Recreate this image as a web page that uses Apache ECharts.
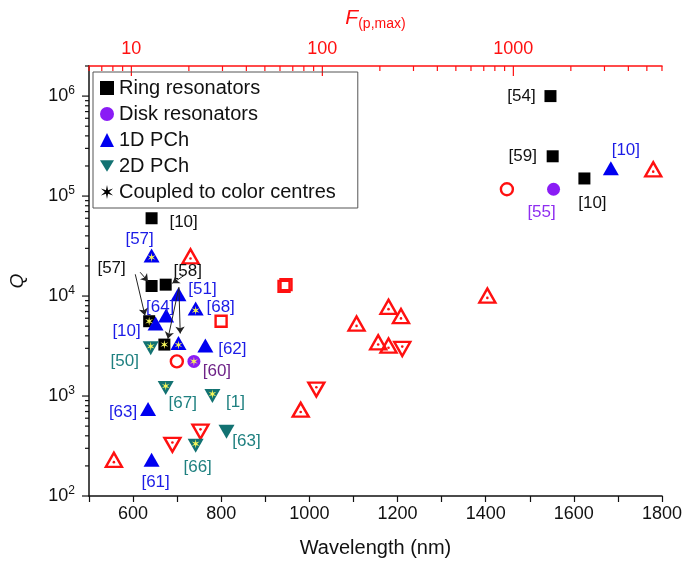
<!DOCTYPE html>
<html><head><meta charset="utf-8">
<script src="https://cdn.jsdelivr.net/npm/echarts@6/dist/echarts.min.js"></script>
<style>html,body{margin:0;padding:0;background:#fff}#c{width:685px;height:563px}</style>
</head><body><div id="c"></div><script>
// ---------------- data ----------------
const ringWl = [1547, 1552, 1624, 642, 642, 674, 636.5, 671];
const ringQ = [1.0e6, 2.5e5, 1.5e5, 6.0e4, 1.26e4, 1.3e4, 5.6e3, 3.27e3];
const ringRef = ['[54]', '[59]', '[10]', '[10]', '[57]', '[58]', '', ''];
const ringCoupled = [0, 0, 0, 0, 0, 0, 1, 1];

const diskWl = [1554, 738];
const diskQ = [1.17e5, 2.22e3];
const diskRef = ['[55]', '[60]'];
const diskCoupled = [0, 1];

const pch1Wl = [1684, 642, 703, 675, 651, 742, 703, 764, 634, 642];
const pch1Q = [1.9e5, 2.55e4, 1.04e4, 6.4e3, 5.3e3, 7.5e3, 3.4e3, 3.2e3, 740, 230];
const pch1Ref = ['[10]', '[57]', '[51]', '[64]', '[10]', '[68]', '', '[62]', '[63]', '[61]'];
const pch1Coupled = [0, 1, 0, 0, 0, 1, 1, 0, 0, 0];

const pch2Wl = [640, 674, 780, 812, 742];
const pch2Q = [3.0e3, 1.2e3, 1.0e3, 440, 318];
const pch2Ref = ['[50]', '[67]', '[1]', '[63]', '[66]'];
const pch2Coupled = [1, 1, 1, 0, 1];

// F_(p,max) (top axis), open red symbols
const fpUpF = [8.1, 20.4, 151, 222, 258, 196, 222, 77, 731, 5400];
const fpUpQ = [230, 2.5e4, 5.3e3, 7.8e3, 6.3e3, 3.45e3, 3.2e3, 730, 1.01e4, 1.85e5];
const fpDownF = [23.0, 16.4, 93, 262];
const fpDownQ = [440, 325, 1160, 2960];
const fpCircleF = [17.3, 925];
const fpCircleQ = [2220, 1.17e5];
const fpSquareF = [29.5, 63, 64.5];
const fpSquareQ = [5600, 1.25e4, 1.3e4];

// annotation arrows [start, end] in (wavelength, Q)
const arrows = [
  [[605, 1.65e4], [627, 6.4e3]],
  [[616, 1.73e4], [634, 1.4e4]],
  [[716, 1.61e4], [689, 1.34e4]],
  [[704, 1.22e4], [679, 3.73e3]],
  [[704, 1.22e4], [707, 4.22e3]]
];

// axis ranges
const xRange = [500, 1800];
const qRange = [100, 2e6];
const fRange = [6, 6000];

// ---------------- styles (label offsets etc.) ----------------
const ringLabelOffset = [[-29, 0], [-30, 0], [8, 25], [32, 4], [-40, -18], [22, -13], null, null];
const diskLabelOffset = [[-12, 23], [23, 10]];
const pch1LabelOffset = [[15, -18], [-12, -16], [24, -5], [-6, -8], [-29, 8], [25, -1], null, [27, 4], [-25, 3], [4, 22]];
const pch2LabelOffset = [[-26, 13], [17, 15], [23, 6], [20, 10], [2, 22]];

const FONT = "'Liberation Sans', Arial, Helvetica, sans-serif";
const RED = '#ff1010';
const BLACK = '#111';
const BLUE = '#0000f0';
const BLUE_T = '#1c1ce6';
const TEAL = '#127272';
const TEAL_T = '#1f8080';
const PURPLE = '#8a1cf5';
const diskLabelColor = ['#8f2ef0', '#6e2288'];
const YEL = '#f6f65a';
const DOWN = 'path://M0,0 L16,0 L8,13 Z';

function starPath(n, rIn) {
  let d = '';
  for (let k = 0; k < 2 * n; k++) {
    const a = -Math.PI / 2 + k * Math.PI / n;
    const r = k % 2 === 0 ? 1 : rIn;
    d += (k ? 'L' : 'M') + (50 + 50 * r * Math.cos(a)).toFixed(2) + ',' + (50 + 50 * r * Math.sin(a)).toFixed(2) + ' ';
  }
  return 'path://' + d + 'Z';
}
const STAR = starPath(6, 0.3);

function pts(wl, q, ref, off, color) {
  return wl.map((x, i) => ({
    value: [x, q[i]],
    name: ref[i] || '',
    label: ref[i] ? { show: true, offset: off[i], color: Array.isArray(color) ? color[i] : color } : { show: false }
  }));
}
function zip(a, b) { return a.map((x, i) => [x, b[i]]); }

const starData = [];
function addStars(wl, q, flags, dy) {
  wl.forEach((x, i) => { if (flags[i]) starData.push({ value: [x, q[i]], symbolOffset: [0, dy] }); });
}
addStars(ringWl, ringQ, ringCoupled, 0);
addStars(diskWl, diskQ, diskCoupled, 0);
addStars(pch1Wl, pch1Q, pch1Coupled, 2);
addStars(pch2Wl, pch2Q, pch2Coupled, -2);

// tick lists
const qTicks = [];
for (let e = 2; e <= 6; e++) for (let m = 1; m <= 9; m++) { const v = m * Math.pow(10, e); if (v <= qRange[1] * 1.0001) qTicks.push([xRange[0], v]); }
const fTicks = [];
for (let e = 0; e <= 3; e++) for (let m = 1; m <= 9; m++) { const v = m * Math.pow(10, e); if (v >= fRange[0] * 0.9999 && v <= fRange[1] * 1.0001) fTicks.push([v, qRange[1]]); }
function isPow10(v) { const e = Math.log10(v); return Math.abs(e - Math.round(e)) < 1e-6; }

const labelBase = { show: true, position: 'inside', fontSize: 17, fontFamily: FONT, formatter: '{b}' };
const solid = c => ({ color: c, opacity: 1 });
const open = { color: 'rgba(0,0,0,0)', borderColor: RED, borderWidth: 2.4, opacity: 1 };
const noEmph = { disabled: true };

const option = {
  animation: false,
  textStyle: { fontFamily: FONT },
  grid: { left: 78, right: 23, top: 66, bottom: 67 },
  legend: {
    orient: 'vertical', left: 93, top: 72,
    padding: [6, 22, 6, 7], itemGap: 6, itemWidth: 14, itemHeight: 14,
    borderColor: '#555', borderWidth: 1,
    textStyle: { fontSize: 20, color: BLACK, lineHeight: 20, fontFamily: FONT },
    selectedMode: false,
    data: [
      { name: 'Ring resonators', icon: 'rect' },
      { name: 'Disk resonators', icon: 'circle' },
      { name: '1D PCh', icon: 'triangle' },
      { name: '2D PCh', icon: DOWN },
      { name: 'Coupled to color centres', icon: STAR, itemStyle: { color: '#000' } }
    ]
  },
  xAxis: [
    {
      type: 'value', min: xRange[0], max: xRange[1], interval: 100, position: 'bottom',
      name: 'Wavelength (nm)', nameLocation: 'middle', nameGap: 42,
      nameTextStyle: { fontSize: 20, color: BLACK, fontFamily: FONT },
      axisLine: { show: true, lineStyle: { color: BLACK, width: 1.5 } },
      axisTick: { show: true, inside: false, length: 6, lineStyle: { color: BLACK, width: 1.2 } },
      axisLabel: { fontSize: 18, color: BLACK, margin: 9, formatter: v => (v > 500 && v % 200 === 0) ? String(v) : '' },
      splitLine: { show: false }
    },
    {
      type: 'log', logBase: 10, min: fRange[0], max: fRange[1], position: 'top',
      name: '{i|F}{s|(p,max)}', nameLocation: 'middle', nameGap: 35,
      nameTextStyle: { rich: {
        i: { fontSize: 21, fontStyle: 'italic', color: RED, lineHeight: 26, fontFamily: FONT },
        s: { fontSize: 14, color: RED, verticalAlign: 'bottom', lineHeight: 26, fontFamily: FONT }
      } },
      axisLine: { show: true, lineStyle: { color: RED, width: 1.5 } },
      axisTick: { show: false },
      axisLabel: { fontSize: 18, color: RED, margin: 8, formatter: v => (isPow10(v) && v >= 9 && v <= 1100) ? String(Math.round(v)) : '' },
      splitLine: { show: false }
    }
  ],
  yAxis: [{
    type: 'log', logBase: 10, min: qRange[0], max: qRange[1],
    name: 'Q', nameLocation: 'middle', nameGap: 62, nameRotate: 90,
    nameTextStyle: { fontSize: 19, fontStyle: 'italic', color: BLACK, fontFamily: FONT },
    axisLine: { show: true, lineStyle: { color: BLACK, width: 1.5 } },
    axisTick: { show: false },
    axisLabel: {
      margin: 14,
      formatter: v => isPow10(v) && v < 1.5e6 ? '{b|10}{sup|' + Math.round(Math.log10(v)) + '}' : '',
      rich: {
        b: { fontSize: 18, color: BLACK, lineHeight: 22, fontFamily: FONT },
        sup: { fontSize: 12, color: BLACK, verticalAlign: 'top', lineHeight: 22, fontFamily: FONT }
      }
    },
    splitLine: { show: false }
  }],
  series: [
    {
      type: 'custom', xAxisIndex: 0, yAxisIndex: 0, data: qTicks, silent: true, z: 1,
      renderItem: (params, api) => {
        const v = api.value(1);
        const p = api.coord([api.value(0), v]);
        const len = isPow10(v) ? 7 : 4;
        return { type: 'line', shape: { x1: p[0] - len, y1: p[1], x2: p[0], y2: p[1] }, style: { stroke: BLACK, lineWidth: 1.2 } };
      }
    },
    {
      type: 'custom', xAxisIndex: 1, yAxisIndex: 0, data: fTicks, silent: true, z: 1,
      renderItem: (params, api) => {
        const v = api.value(0);
        const p = api.coord([v, api.value(1)]);
        const len = isPow10(v) ? 10 : 5;
        return { type: 'line', shape: { x1: p[0], y1: p[1], x2: p[0], y2: p[1] + len }, style: { stroke: RED, lineWidth: 1.2 } };
      }
    },
    { name: 'fpUp', type: 'scatter', xAxisIndex: 1, symbol: 'triangle', symbolSize: [16, 14], itemStyle: open, emphasis: noEmph, data: zip(fpUpF, fpUpQ), z: 3 },
    { name: 'fpUpDot', type: 'scatter', xAxisIndex: 1, symbol: 'circle', symbolSize: 2.6, symbolOffset: [0, 2.3], itemStyle: solid(RED), emphasis: noEmph, data: zip(fpUpF, fpUpQ), z: 3 },
    { name: 'fpDown', type: 'scatter', xAxisIndex: 1, symbol: DOWN, symbolSize: [16, 14], itemStyle: open, emphasis: noEmph, data: zip(fpDownF, fpDownQ), z: 3 },
    { name: 'fpDownDot', type: 'scatter', xAxisIndex: 1, symbol: 'circle', symbolSize: 2.6, symbolOffset: [0, -2.3], itemStyle: solid(RED), emphasis: noEmph, data: zip(fpDownF, fpDownQ), z: 3 },
    { name: 'fpCircle', type: 'scatter', xAxisIndex: 1, symbol: 'circle', symbolSize: 12, itemStyle: open, emphasis: noEmph, data: zip(fpCircleF, fpCircleQ), z: 3 },
    { name: 'fpSquare', type: 'scatter', xAxisIndex: 1, symbol: 'rect', symbolSize: 11, itemStyle: open, emphasis: noEmph, data: zip(fpSquareF, fpSquareQ), z: 3 },
    { name: 'Ring resonators', type: 'scatter', symbol: 'rect', symbolSize: 12, itemStyle: solid('#000'), emphasis: noEmph,
      label: labelBase, data: pts(ringWl, ringQ, ringRef, ringLabelOffset, BLACK), z: 4 },
    { name: 'Disk resonators', type: 'scatter', symbol: 'circle', symbolSize: 13, itemStyle: solid(PURPLE), emphasis: noEmph,
      label: labelBase, data: pts(diskWl, diskQ, diskRef, diskLabelOffset, diskLabelColor), z: 4 },
    { name: '1D PCh', type: 'scatter', symbol: 'triangle', symbolSize: [16, 14], itemStyle: solid(BLUE), emphasis: noEmph,
      label: labelBase, data: pts(pch1Wl, pch1Q, pch1Ref, pch1LabelOffset, BLUE_T), z: 4 },
    { name: '2D PCh', type: 'scatter', symbol: DOWN, symbolSize: [16, 14], itemStyle: solid(TEAL), emphasis: noEmph,
      label: labelBase, data: pts(pch2Wl, pch2Q, pch2Ref, pch2LabelOffset, TEAL_T), z: 4 },
    { name: 'Coupled to color centres', type: 'scatter', symbol: STAR, symbolSize: 9, symbolKeepAspect: true,
      itemStyle: solid(YEL), emphasis: noEmph, data: starData, z: 5 },
    {
      name: 'arrows', type: 'lines', coordinateSystem: 'cartesian2d', xAxisIndex: 0, yAxisIndex: 0,
      symbol: ['none', 'arrow'], symbolSize: 7, lineStyle: { color: '#222', width: 1, opacity: 1 },
      data: arrows.map(a => ({ coords: a })), z: 6
    }
  ]
};

const chart = echarts.init(document.getElementById('c'), null, { renderer: 'canvas' });
chart.setOption(option);
</script></body></html>
